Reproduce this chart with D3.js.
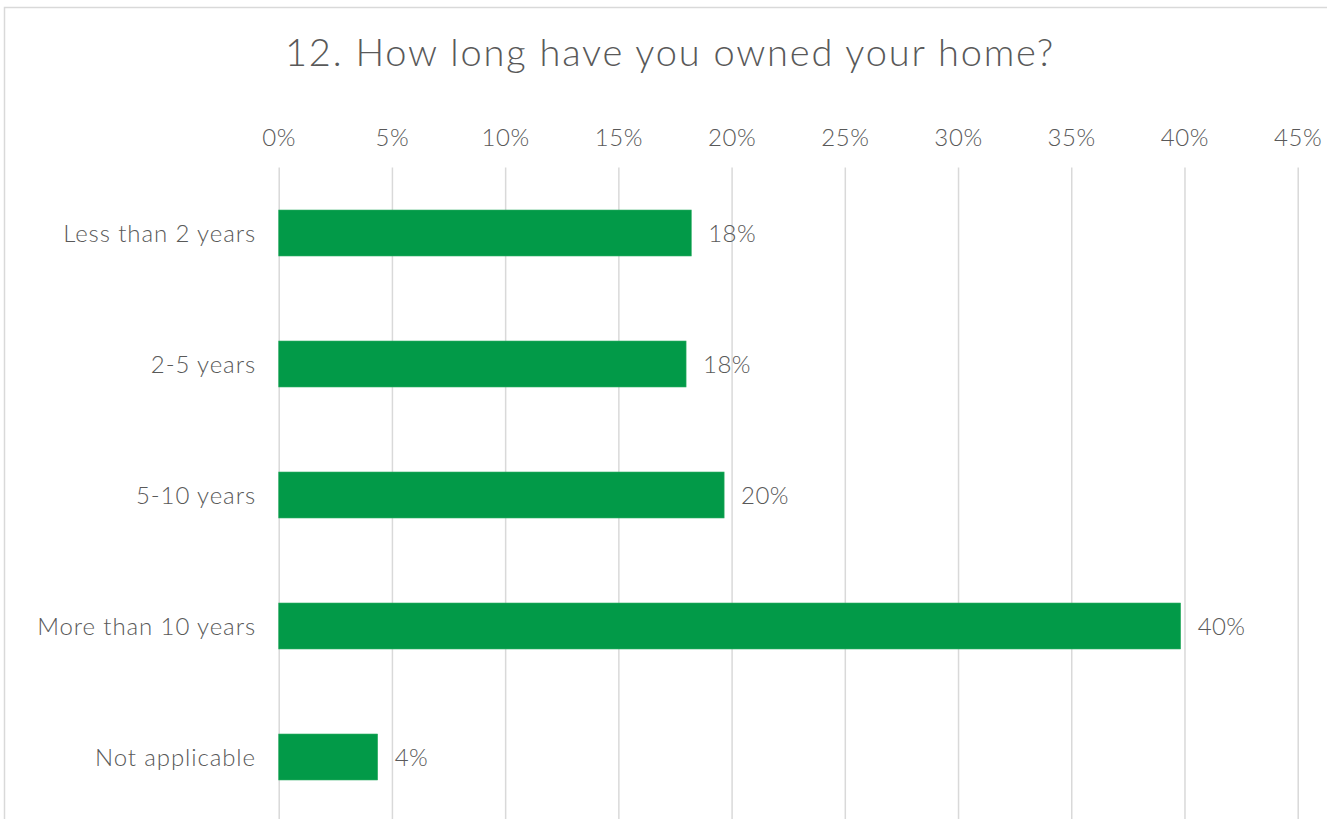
<!DOCTYPE html>
<html>
<head>
<meta charset="utf-8">
<script src="https://cdn.jsdelivr.net/npm/d3@7"></script>
<style>
  html, body { margin: 0; padding: 0; background: #fff; }
  svg { display: block; }
  text { font-family: "Century Gothic", Lato, "Open Sans", sans-serif; fill: #595959; font-weight: 300; }
</style>
</head>
<body>
<svg id="chart" width="1327" height="819"></svg>
<script>
// Survey question 12: ownership duration
const chartTitle = "12. How long have you owned your home?";
const categories = ["Less than 2 years", "2-5 years", "5-10 years", "More than 10 years", "Not applicable"];
const shares = [0.1822, 0.1799, 0.1967, 0.3983, 0.0437];
const tickValues = [0, 0.05, 0.10, 0.15, 0.20, 0.25, 0.30, 0.35, 0.40, 0.45];

const W = 1327, H = 819;
const svg = d3.select("#chart");

// chart frame
svg.append("rect")
  .attr("x", 4.5).attr("y", 7.5)
  .attr("width", 1332).attr("height", 900)
  .attr("fill", "#fff")
  .attr("stroke", "#d9d9d9").attr("stroke-width", 1.5);

const plot = { left: 278.7, right: 1297.7, top: 167.5, bottom: 822.5 };

const x = d3.scaleLinear().domain([0, 0.45]).range([plot.left, plot.right]);
const y = d3.scaleBand().domain(categories)
  .range([plot.top, plot.bottom])
  .paddingInner(0.649).paddingOuter(0.3245);

// title
svg.append("text")
  .attr("x", 670).attr("y", 66)
  .attr("text-anchor", "middle")
  .style("font-size", "38px")
  .style("letter-spacing", "1.8px")
  .text(chartTitle);

// top axis with vertical gridlines
const axis = svg.append("g")
  .attr("transform", `translate(0,${plot.top})`)
  .call(d3.axisTop(x)
    .tickValues(tickValues)
    .tickFormat(d3.format(".0%"))
    .tickSizeInner(-(H - plot.top + 10))
    .tickSizeOuter(0)
    .tickPadding(22));
axis.select(".domain").remove();
axis.selectAll(".tick line").attr("stroke", "#d9d9d9").attr("stroke-width", 1.5);
axis.selectAll(".tick text")
  .attr("fill", "#595959")
  .style("font-size", "24px")
  .style("letter-spacing", "0.6px")
  .style("font-family", "\"Century Gothic\", Lato, \"Open Sans\", sans-serif");

// category labels
svg.append("g").selectAll("text")
  .data(categories)
  .join("text")
  .attr("x", 256)
  .attr("y", d => y(d) + y.bandwidth() / 2 + 9)
  .attr("text-anchor", "end")
  .style("font-size", "24px")
  .style("letter-spacing", "0.9px")
  .text(d => d);

// bars
svg.append("g").selectAll("rect")
  .data(categories)
  .join("rect")
  .attr("x", x(0))
  .attr("y", d => y(d))
  .attr("width", (d, i) => x(shares[i]) - x(0))
  .attr("height", y.bandwidth())
  .attr("fill", "#029A48")
  .attr("stroke", "#2fae64").attr("stroke-width", 0.6);

// value labels
svg.append("g").selectAll("text")
  .data(categories)
  .join("text")
  .attr("x", (d, i) => x(shares[i]) + 17)
  .attr("y", d => y(d) + y.bandwidth() / 2 + 9)
  .style("font-size", "24px")
  .style("letter-spacing", "0.4px")
  .text((d, i) => d3.format(".0%")(shares[i]));
</script>
</body>
</html>
